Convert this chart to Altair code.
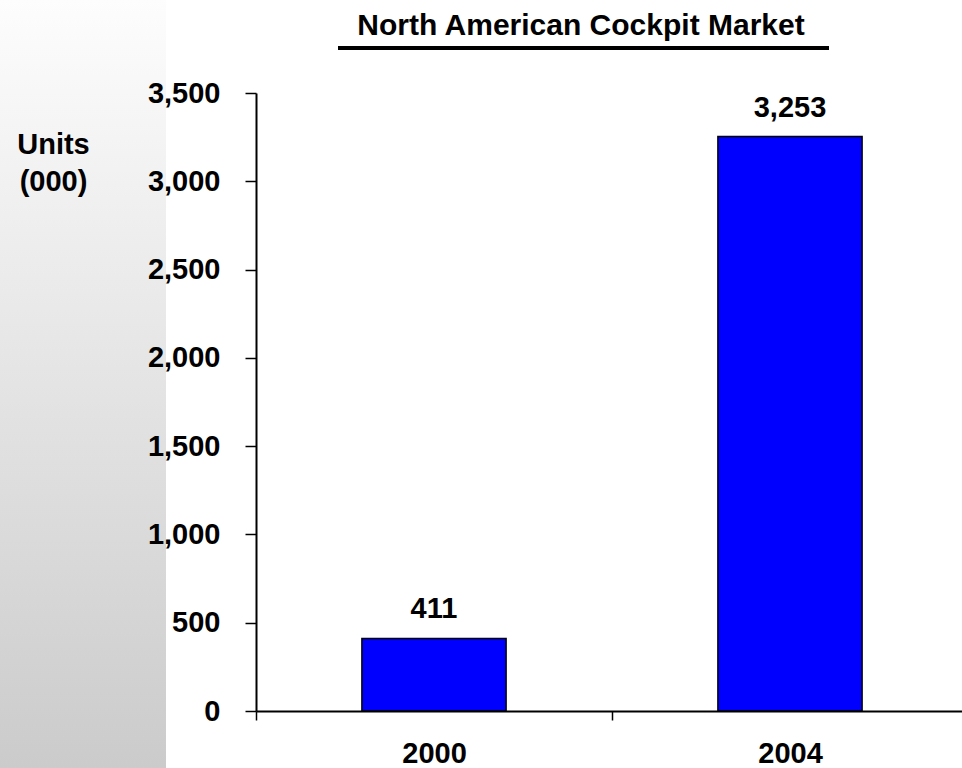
import altair as alt
import pandas as pd

years = ["2000", "2004"]
units = [411, 3253]
y_ticks = [0, 500, 1000, 1500, 2000, 2500, 3000, 3500]
title_text = "North American Cockpit Market"
y_title = ["Units", "(000)"]

df = pd.DataFrame({"year": years, "units": units})

W, H = 706, 618
L, T = 256, 93
FONT = "Liberation Sans"
FS = 29

x_axis = alt.Axis(title=None, labelAngle=0, labelFont=FONT,
                  labelFontSize=FS, labelFontWeight="bold",
                  labelColor="black", labelPadding=19,
                  tickBand="extent", tickSize=9, tickColor="black",
                  tickWidth=1.5, domainColor="black", domainWidth=2,
                  zindex=2)
y_axis = alt.Axis(values=y_ticks, format=",", grid=False,
                  labelExpr="format(datum.value, ',')",
                  title=y_title, titleAngle=0, titleAlign="center",
                  titleBaseline="alphabetic", titleX=53 - L,
                  titleY=153 - T, titleLineHeight=37,
                  titleFont=FONT, titleFontSize=FS,
                  titleFontWeight="bold", titleColor="black",
                  labelFont=FONT, labelFontSize=FS,
                  labelFontWeight="bold", labelColor="black",
                  labelPadding=25, tickSize=11, tickColor="black",
                  tickWidth=1.5, domainColor="black", domainWidth=2,
                  zindex=2)
x_scale = alt.Scale(paddingInner=0, paddingOuter=0, range=[0, 712])
y_scale = alt.Scale(domain=[0, 3500], nice=False)

base = alt.Chart(df)

bars = base.mark_bar(color="#0000FF", stroke="black", strokeWidth=1.5,
                     width=alt.RelativeBandSize(0.405)).encode(
    x=alt.X("year:N", sort=years, scale=x_scale, axis=x_axis),
    y=alt.Y("units:Q", scale=y_scale, axis=y_axis),
)

labels = base.mark_text(font=FONT, fontSize=FS, fontWeight="bold",
                        color="black", baseline="alphabetic", dy=-20).encode(
    x=alt.X("year:N", sort=years, scale=x_scale, axis=x_axis),
    y=alt.Y("units:Q", scale=y_scale, axis=y_axis),
    text=alt.Text("units:Q", format=","),
)

panel_df = pd.DataFrame({"k": [0]})
panel = alt.Chart(panel_df).mark_rect(
    color=alt.Gradient(gradient="linear",
                       stops=[alt.GradientStop(color="#fdfdfd", offset=0),
                              alt.GradientStop(color="#cbcbcb", offset=1)],
                       x1=0, x2=0, y1=0, y2=1)
).encode(x=alt.value(-L), x2=alt.value(166 - L),
         y=alt.value(-T), y2=alt.value(768 - T))

title_df = pd.DataFrame({"t": [title_text]})
title = alt.Chart(title_df).mark_text(
    font=FONT, fontSize=30, fontWeight="bold", color="black",
    baseline="alphabetic", align="center"
).encode(x=alt.value(581 - L), y=alt.value(35 - T), text="t:N")

underline = alt.Chart(panel_df).mark_rule(color="black", strokeWidth=4).encode(
    x=alt.value(338 - L), x2=alt.value(829 - L), y=alt.value(48 - T))

chart = alt.layer(panel, title, underline, bars, labels).properties(
    width=W, height=H,
    background="white",
    autosize=alt.AutoSizeParams(type="none"),
    padding={"left": L, "top": T, "right": 0, "bottom": 768 - T - H},
).configure_view(stroke=None)

chart.save("out.html", embed_options={"renderer": "svg", "actions": False})
